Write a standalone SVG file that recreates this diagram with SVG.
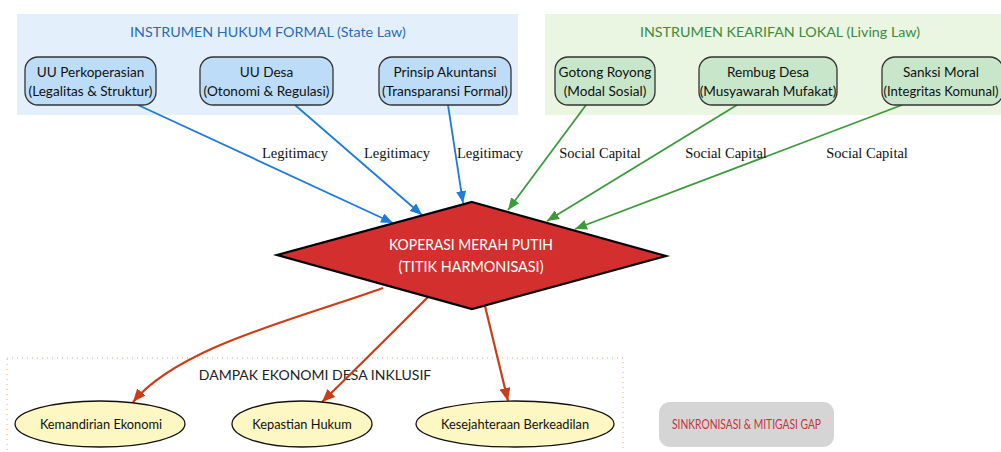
<svg xmlns="http://www.w3.org/2000/svg" width="1001" height="452" viewBox="0 0 1001 452">
<style>
.ttl{font-family:Lato,"Open Sans",sans-serif;font-size:14.3px;text-anchor:middle}
.nt{font-family:Lato,"Open Sans",sans-serif;font-size:13.6px;fill:#111;text-anchor:middle}
.et{font-family:Lato,"Open Sans",sans-serif;font-size:12.8px;fill:#111;text-anchor:middle}
.lbl{font-family:"Liberation Serif",serif;font-size:14.5px;fill:#111;text-anchor:middle}
.bn{fill:#bcdcf7;stroke:#333;stroke-width:1.3}
.gn{fill:#c8e6c9;stroke:#333;stroke-width:1.3}
.el{fill:#fdf7c3;stroke:#111;stroke-width:1.3}
.eb{fill:none;stroke:#1f7ad8;stroke-width:1.8}
.eg{fill:none;stroke:#3c9a3c;stroke-width:1.8}
.er{fill:none;stroke:#c93e16;stroke-width:2.2}
</style>
<defs>
<marker id="ab" markerUnits="userSpaceOnUse" markerWidth="12" markerHeight="10" refX="12" refY="5" orient="auto"><path d="M0,0 L12,5 L0,10 z" fill="#1f7ad8"/></marker>
<marker id="ag" markerUnits="userSpaceOnUse" markerWidth="12" markerHeight="10" refX="12" refY="5" orient="auto"><path d="M0,0 L12,5 L0,10 z" fill="#3c9a3c"/></marker>
<marker id="ar" markerUnits="userSpaceOnUse" markerWidth="13" markerHeight="11" refX="13" refY="5.5" orient="auto"><path d="M0,0 L13,5.5 L0,11 z" fill="#c93e16"/></marker>
</defs>
<rect width="1001" height="452" fill="#fff"/>

<g id="cluster-formal">
<rect x="17" y="14" width="501" height="101" fill="#e3f0fc"/>
<text class="ttl" x="268" y="37" fill="#2b6cb8">INSTRUMEN HUKUM FORMAL (State Law)</text>
</g>
<g id="cluster-lokal">
<rect x="545" y="14" width="460" height="101" fill="#eaf5e2"/>
<text class="ttl" x="780" y="37" fill="#3d8b3d">INSTRUMEN KEARIFAN LOKAL (Living Law)</text>
</g>
<g id="cluster-dampak">
<rect x="7" y="358" width="616" height="100" fill="none" stroke="#f0a070" stroke-width="1" stroke-dasharray="1,4"/>
<text x="315" y="380" style="font-family:Lato,'Open Sans',sans-serif;font-size:14px;fill:#222;text-anchor:middle">DAMPAK EKONOMI DESA INKLUSIF</text>
</g>

<g id="connectors">
<path class="eb" d="M138,105 L393,223" marker-end="url(#ab)"/>
<path class="eb" d="M295,105 L422,215" marker-end="url(#ab)"/>
<path class="eb" d="M448,105 L463,203" marker-end="url(#ab)"/>
<path class="eg" d="M586,105 L508,210" marker-end="url(#ag)"/>
<path class="eg" d="M737,105 L547,221" marker-end="url(#ag)"/>
<path class="eg" d="M902,105 L575,229" marker-end="url(#ag)"/>
<path class="er" d="M383,288 C300,318 180,346 133,402" marker-end="url(#ar)"/>
<path class="er" d="M428,297 C390,335 355,370 322,402" marker-end="url(#ar)"/>
<path class="er" d="M485,306 L508,401" marker-end="url(#ar)"/>
<text class="lbl" x="295" y="158">Legitimacy</text>
<text class="lbl" x="397" y="158">Legitimacy</text>
<text class="lbl" x="490" y="158">Legitimacy</text>
<text class="lbl" x="600" y="158">Social Capital</text>
<text class="lbl" x="726" y="158">Social Capital</text>
<text class="lbl" x="867" y="158">Social Capital</text>
</g>

<g id="uu-perkoperasian">
<rect class="bn" x="25" y="57" width="131" height="48" rx="13"/>
<text class="nt" x="90.5" y="77">UU Perkoperasian</text>
<text class="nt" x="90.5" y="96">(Legalitas &amp; Struktur)</text>
</g>
<g id="uu-desa">
<rect class="bn" x="200" y="57" width="133" height="48" rx="13"/>
<text class="nt" x="266.5" y="77">UU Desa</text>
<text class="nt" x="266.5" y="96">(Otonomi &amp; Regulasi)</text>
</g>
<g id="prinsip-akuntansi">
<rect class="bn" x="379" y="57" width="132" height="48" rx="13"/>
<text class="nt" x="445" y="77">Prinsip Akuntansi</text>
<text class="nt" x="445" y="96">(Transparansi Formal)</text>
</g>
<g id="gotong-royong">
<rect class="gn" x="555" y="57" width="100" height="48" rx="13"/>
<text class="nt" x="605" y="77">Gotong Royong</text>
<text class="nt" x="605" y="96">(Modal Sosial)</text>
</g>
<g id="rembug-desa">
<rect class="gn" x="699" y="57" width="138" height="48" rx="13"/>
<text class="nt" x="768" y="77">Rembug Desa</text>
<text class="nt" x="768" y="96">(Musyawarah Mufakat)</text>
</g>
<g id="sanksi-moral">
<rect class="gn" x="882" y="57" width="121" height="48" rx="13"/>
<text class="nt" x="941" y="77">Sanksi Moral</text>
<text class="nt" x="941" y="96" textLength="115" lengthAdjust="spacingAndGlyphs">(Integritas Komunal)</text>
</g>

<g id="koperasi-merah-putih">
<polygon points="472,202 666,256 472,309 277,255" fill="#d32f2f" stroke="#000" stroke-width="2.2" stroke-linejoin="miter"/>
<text x="471" y="250" textLength="164" lengthAdjust="spacingAndGlyphs" style="font-family:Lato,'Open Sans',sans-serif;font-size:14.6px;fill:#fff;text-anchor:middle">KOPERASI MERAH PUTIH</text>
<text x="471" y="272" textLength="145" lengthAdjust="spacingAndGlyphs" style="font-family:Lato,'Open Sans',sans-serif;font-size:14.6px;fill:#fff;text-anchor:middle">(TITIK HARMONISASI)</text>
</g>

<g id="kemandirian-ekonomi">
<ellipse class="el" cx="100" cy="424" rx="85" ry="23"/>
<text class="et" x="101" y="429">Kemandirian Ekonomi</text>
</g>
<g id="kepastian-hukum">
<ellipse class="el" cx="302" cy="424" rx="70" ry="23"/>
<text class="et" x="302" y="429">Kepastian Hukum</text>
</g>
<g id="kesejahteraan">
<ellipse class="el" cx="515" cy="424" rx="99" ry="23"/>
<text class="et" x="515" y="429">Kesejahteraan Berkeadilan</text>
</g>

<g id="sinkronisasi">
<rect x="659" y="402" width="175" height="45" rx="11" fill="#d5d5d5"/>
<text x="746.5" y="429" textLength="149" lengthAdjust="spacingAndGlyphs" style="font-family:Lato,'Open Sans',sans-serif;font-size:13px;fill:#c8323c;text-anchor:middle">SINKRONISASI &amp; MITIGASI GAP</text>
</g>
</svg>
